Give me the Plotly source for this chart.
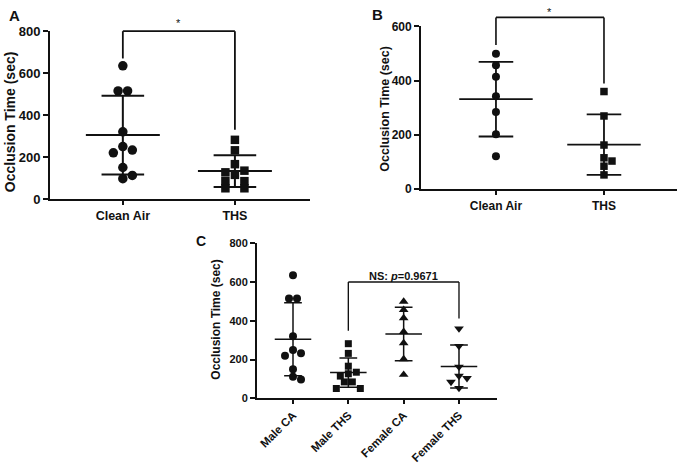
import numpy as np
import plotly.graph_objects as go

W, H = 679, 470
FONT = "Arial, 'Liberation Sans', sans-serif"
INK = "#111111"

# ---------------- data ----------------
cats_A = ["Clean Air", "THS"]
cats_B = ["Clean Air", "THS"]
cats_C = ["Male CA", "Male THS", "Female CA", "Female THS"]

male_clean_air = [635, 515, 515, 320, 250, 233, 220, 150, 112, 97]
male_ths = [282, 232, 166, 135, 127, 115, 85, 85, 51, 51]
female_clean_air = [499, 457, 414, 343, 285, 203, 122]
female_ths = [360, 270, 163, 116, 104, 85, 53]

yticks_A = [0, 200, 400, 600, 800]
yticks_B = [0, 200, 400, 600]
yticks_C = [0, 200, 400, 600, 800]

sig_A = "*"
sig_B = "*"
sig_C = "<b>NS: <i>p</i>=0.9671</b>"
y_title = "Occlusion Time (sec)"

# ---------------- panel configuration ----------------
panels = [
    dict(key="", label="A", xdom=[50 / W, 310 / W], ydom=[(H - 198.3) / H, (H - 25) / H],
         xr=[-0.65, 1.67], yr=[0, 800], cats=cats_A, yticks=yticks_A,
         groups=[male_clean_air, male_ths], symbols=["circle", "square"],
         msize=[9.5, 8.5], diam=9.5, lw=2.0, mhw=0.33, chw=0.19,
         tickfs=13, catfs=12.5, tickangle=0,
         bracket=dict(i=0, j=1, top=800, li=670, lj=330, text=sig_A, ty=838, tfs=11),
         title=dict(x=10, y=119, fs=14), letter=dict(x=14, y=9, fs=15)),
    dict(key="2", label="B", xdom=[421 / W, 677 / W], ydom=[(H - 188.3) / H, (H - 20) / H],
         xr=[-0.694, 1.676], yr=[0, 600], cats=cats_B, yticks=yticks_B,
         groups=[female_clean_air, female_ths], symbols=["circle", "square"],
         msize=[8, 7.5], diam=8, lw=1.8, mhw=0.34, chw=0.16,
         tickfs=12, catfs=12, tickangle=0,
         bracket=dict(i=0, j=1, top=633, li=531, lj=390, text=sig_B, ty=652, tfs=11),
         title=dict(x=385, y=105, fs=12.5), letter=dict(x=377, y=8, fs=15)),
    dict(key="3", label="C", xdom=[256.7 / W, 497 / W], ydom=[(H - 404.3) / H, (H - 244) / H],
         xr=[-0.656, 3.687], yr=[0, 800], cats=cats_C, yticks=yticks_C,
         groups=[male_clean_air, male_ths, female_clean_air, female_ths],
         symbols=["circle", "square", "triangle-up", "triangle-down"],
         msize=[8, 7, 8.5, 8.5], diam=8, lw=1.5, mhw=0.33, chw=0.16,
         tickfs=11, catfs=11.5, tickangle=-45,
         bracket=dict(i=1, j=3, top=600, li=349, lj=412, text=sig_C, ty=632, tfs=11),
         title=dict(x=216, y=323, fs=12), letter=dict(x=201, y=242, fs=14)),
]


def swarm(vals, diam, px_x, px_y):
    """Simple beeswarm: horizontal offsets (in axis units) so markers do not overlap."""
    order = sorted(range(len(vals)), key=lambda k: -vals[k])
    cands = [0]
    for k in range(1, 8):
        cands += [k, -k]
    placed, off = [], [0.0] * len(vals)
    for i in order:
        y = vals[i] * px_y
        x = 0.0
        for c in cands:
            x = c * diam
            if all((x - a) ** 2 + (y - b) ** 2 >= (0.95 * diam) ** 2 for a, b in placed):
                break
        placed.append((x, y))
        off[i] = x
    # recentre points that share the same value
    for v in set(vals):
        idx = [k for k in range(len(vals)) if vals[k] == v]
        if len(idx) > 1:
            m = np.mean([off[k] for k in idx])
            for k in idx:
                off[k] -= m
    return [o / px_x for o in off]


fig = go.Figure()
layout = dict(width=W, height=H, margin=dict(l=0, r=0, t=0, b=0),
              paper_bgcolor="white", plot_bgcolor="white", showlegend=False,
              font=dict(family=FONT, color=INK), shapes=[], annotations=[])

for p in panels:
    xa, ya = "x" + p["key"], "y" + p["key"]
    px_x = (p["xdom"][1] - p["xdom"][0]) * W / (p["xr"][1] - p["xr"][0])
    px_y = (p["ydom"][1] - p["ydom"][0]) * H / (p["yr"][1] - p["yr"][0])
    for gi, vals in enumerate(p["groups"]):
        offs = swarm(vals, p["diam"], px_x, px_y)
        fig.add_trace(go.Scatter(
            x=[gi + o for o in offs], y=vals, mode="markers", xaxis=xa, yaxis=ya,
            marker=dict(symbol=p["symbols"][gi], size=p["msize"][gi], color=INK,
                        line=dict(width=0)),
            cliponaxis=False, hoverinfo="y"))
        m = float(np.mean(vals))
        s = float(np.std(vals, ddof=1))
        lx = [gi - p["mhw"], gi + p["mhw"], None,
              gi - p["chw"], gi + p["chw"], None,
              gi - p["chw"], gi + p["chw"], None,
              gi, gi]
        ly = [m, m, None, m + s, m + s, None, m - s, m - s, None, m + s, m - s]
        fig.add_trace(go.Scatter(x=lx, y=ly, mode="lines", xaxis=xa, yaxis=ya,
                                 line=dict(color=INK, width=p["lw"]), hoverinfo="skip"))

    axis_common = dict(showline=True, linecolor=INK, linewidth=p["lw"], ticks="outside",
                       tickcolor=INK, tickwidth=p["lw"], showgrid=False, zeroline=False,
                       fixedrange=True)
    layout["xaxis" + p["key"]] = dict(
        axis_common, domain=p["xdom"], range=p["xr"], anchor=ya,
        tickvals=list(range(len(p["cats"]))), ticktext=["<b>%s</b>" % c for c in p["cats"]],
        ticklen=4, tickangle=p["tickangle"],
        tickfont=dict(family=FONT, size=p["catfs"], color=INK, weight="bold"))
    layout["yaxis" + p["key"]] = dict(
        axis_common, domain=p["ydom"], range=p["yr"], anchor=xa,
        tickvals=p["yticks"], ticktext=["<b>%d</b>" % t for t in p["yticks"]], ticklen=5,
        tickfont=dict(family=FONT, size=p["tickfs"], color=INK, weight="bold"))

    # significance bracket (axis-domain units so it may extend above the range)
    b = p["bracket"]
    ymax = p["yr"][1]
    for (x0, y0, x1, y1) in [(b["i"], b["li"], b["i"], b["top"]),
                             (b["i"], b["top"], b["j"], b["top"]),
                             (b["j"], b["top"], b["j"], b["lj"])]:
        layout["shapes"].append(dict(type="line", xref=xa, yref=ya + " domain",
                                     x0=x0, x1=x1, y0=y0 / ymax, y1=y1 / ymax,
                                     line=dict(color=INK, width=p["lw"] * 0.9)))
    layout["annotations"].append(dict(
        xref=xa, yref=ya + " domain", x=(b["i"] + b["j"]) / 2, y=b["ty"] / ymax,
        text=b["text"], showarrow=False, yanchor="middle",
        font=dict(family=FONT, size=b["tfs"], color=INK)))

    # y-axis title
    t = p["title"]
    layout["annotations"].append(dict(
        xref="paper", yref="paper", x=t["x"] / W, y=(H - t["y"]) / H, text="<b>" + y_title + "</b>",
        textangle=-90, showarrow=False, xanchor="center", yanchor="middle",
        font=dict(family=FONT, size=t["fs"], color=INK)))
    # panel letter
    lt = p["letter"]
    layout["annotations"].append(dict(
        xref="paper", yref="paper", x=lt["x"] / W, y=(H - lt["y"]) / H, text="<b>" + p["label"] + "</b>",
        showarrow=False, xanchor="center", yanchor="middle",
        font=dict(family=FONT, size=lt["fs"], color=INK)))

fig.update_layout(**layout)
fig.write_html("out.html")
